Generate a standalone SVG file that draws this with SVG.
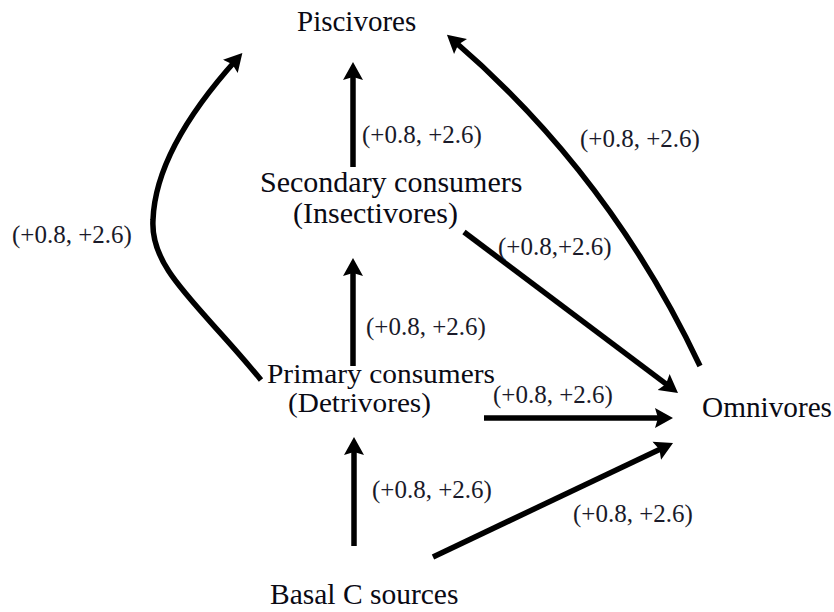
<svg xmlns="http://www.w3.org/2000/svg" width="834" height="612" viewBox="0 0 834 612">
<style>
.node{font-family:"Liberation Serif","Times New Roman",serif;fill:#0a0a14}
.lbl{font-family:"Liberation Serif","Times New Roman",serif;font-size:25px;fill:#1a1a2a}
.edge{fill:none;stroke:#000;stroke-width:5.5;marker-end:url(#ah)}
</style>
<defs>
<marker id="ah" markerUnits="userSpaceOnUse" markerWidth="20" markerHeight="22" refX="10" refY="11" orient="auto">
<path d="M0,1 L18,11 L0,21 L3,11 z" fill="#000"/>
</marker>
</defs>
<rect width="834" height="612" fill="#fff"/>
<g id="connectors">
<path class="edge" d="M353,167 V70"/>
<path class="edge" d="M353,366 V266"/>
<path class="edge" d="M354,546 V445"/>
<path class="edge" d="M484,418 H665"/>
<path class="edge" d="M464,232 L671.6,388.1"/>
<path class="edge" d="M433,557 L665.8,446.4"/>
<path class="edge" d="M700,366 Q610,175 453,40"/>
<path class="edge" d="M261,380 C200,305 150,270 153,220 C155,160 200,100 237,59"/>
</g>
<g id="edge-labels">
<text class="lbl" x="362" y="143">(+0.8, +2.6)</text>
<text class="lbl" x="12" y="243">(+0.8, +2.6)</text>
<text class="lbl" x="580" y="147">(+0.8, +2.6)</text>
<text class="lbl" x="498" y="255">(+0.8,+2.6)</text>
<text class="lbl" x="366" y="335">(+0.8, +2.6)</text>
<text class="lbl" x="493" y="403">(+0.8, +2.6)</text>
<text class="lbl" x="372" y="498">(+0.8, +2.6)</text>
<text class="lbl" x="573" y="522">(+0.8, +2.6)</text>
</g>
<g id="piscivores"><text class="node" x="297" y="31" font-size="29">Piscivores</text></g>
<g id="secondary"><text class="node" x="260" y="192" font-size="30">Secondary consumers</text><text class="node" x="293" y="223" font-size="30">(Insectivores)</text></g>
<g id="primary"><text class="node" x="267" y="383" font-size="28" textLength="228" lengthAdjust="spacingAndGlyphs">Primary consumers</text><text class="node" x="288" y="412" font-size="28" textLength="143" lengthAdjust="spacingAndGlyphs">(Detrivores)</text></g>
<g id="omnivores"><text class="node" x="702" y="417" font-size="29" textLength="130" lengthAdjust="spacingAndGlyphs">Omnivores</text></g>
<g id="basal"><text class="node" x="270" y="604" font-size="29.5">Basal C sources</text></g>
</svg>
